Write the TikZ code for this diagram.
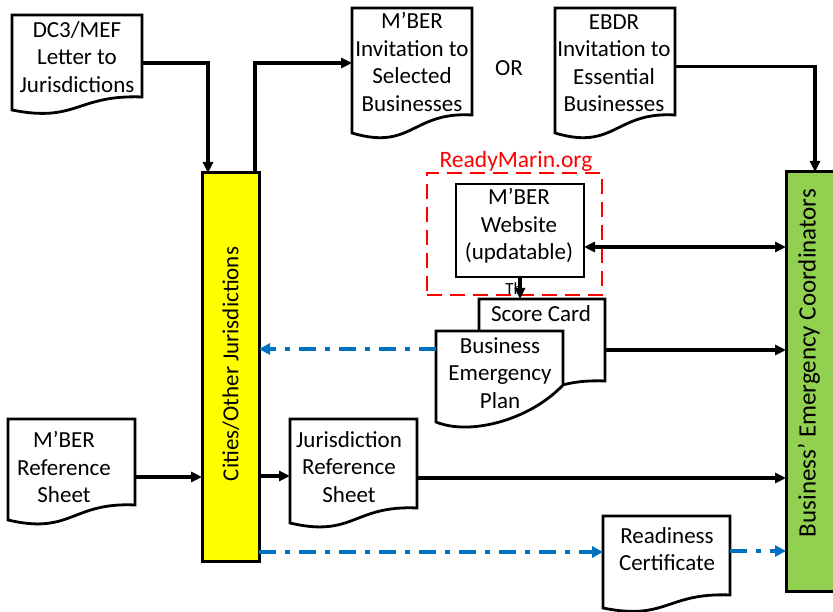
\documentclass[tikz,border=0pt]{standalone}
\usepackage{fontspec}
\setmainfont{Carlito}
\usetikzlibrary{arrows.meta,calc}
\definecolor{cyel}{HTML}{FFFF00}
\definecolor{cgreen}{HTML}{92D050}
\definecolor{cblue}{HTML}{0070C0}
\definecolor{cred}{HTML}{FF0000}
\tikzset{
  frame/.style={inner sep=0pt,outer sep=0pt},
  docline/.style={draw=black,fill=white,line width=2.8pt,line join=miter},
  txt/.style={inner sep=0pt,align=center,font=\fontsize{23}{27.5}\selectfont},
  bar/.style={frame,draw=black,line width=3pt},
  arr/.style={line width=3.2pt,-{Triangle[length=11pt,width=10pt]}},
  dblarr/.style={line width=3.2pt,{Triangle[length=11pt,width=10pt]}-{Triangle[length=11pt,width=10pt]}},
  bluearr/.style={line width=3.4pt,draw=cblue,dash pattern=on 17pt off 9pt on 5pt off 9pt,-{Triangle[length=11pt,width=11pt,fill=cblue]}},
}
\newcommand\docframe[2]{%
  \draw[docline] (#1.north west) -- ($(#1.south west)+(0,#2)$)
    .. controls ($(#1.south)+(0,{2*#2})$) and ($(#1.south)+(0,{-0.2*#2})$) .. (#1.south east)
    -- (#1.north east) -- cycle;}
\begin{document}
\begin{tikzpicture}[x=1pt,y=-1pt]
\useasboundingbox (0,0) rectangle (833,612);
% frames
\node[frame,minimum width=130,minimum height=82] (dc3) at (77,56) {};
\node[frame,minimum width=120,minimum height=107] (minv) at (412,61.5) {};
\node[frame,minimum width=120,minimum height=107] (ebdr) at (615,61.5) {};
\node[frame,minimum width=126,minimum height=82] (sc) at (542,340) {};
\node[frame,minimum width=127,minimum height=54] (bep) at (499.5,358) {};
\node[frame,minimum width=127,minimum height=86] (mrs) at (71.5,462) {};
\node[frame,minimum width=127,minimum height=89] (jrs) at (353.5,463.5) {};
\node[frame,minimum width=127,minimum height=79] (rc) at (666.5,555.5) {};
\docframe{dc3}{13}
\docframe{minv}{18}
\docframe{ebdr}{18}
\docframe{sc}{13}
\draw[docline] (bep.north west) -- ($(bep.south west)+(0,37)$)
  .. controls ($(bep.south west)+(34,51)$) and ($(bep.south west)+(94,35)$) .. (bep.south east)
  -- (bep.north east) -- cycle;
\docframe{mrs}{15}
\docframe{jrs}{15}
\docframe{rc}{13}
% bars
\node[bar,fill=cyel,minimum width=57,minimum height=388] (cities) at (230.5,367) {};
\node[bar,fill=cgreen,minimum width=56,minimum height=419] (green) at (814,381.5) {};
\node[txt,rotate=90] (citiest) at (231,364) {Cities/Other Jurisdictions};
\node[txt,rotate=90,font=\fontsize{25}{28}\selectfont] (greent) at (809,363) {Business’ Emergency Coordinators};
% website and red region
\node[frame,draw=cred,line width=2.8pt,dash pattern=on 15pt off 8pt,minimum width=175,minimum height=122] (rb) at (514.5,234) {};
\node[frame,draw=black,fill=white,line width=2.8pt,minimum width=128,minimum height=93] (web) at (520,230.5) {};
\node[txt] (webt) at (519,226) {M’BER\\Website\\(updatable)};
\node[inner sep=0pt,text=cred,font=\fontsize{23.5}{26}\selectfont] (rmt) at (516,161) {ReadyMarin.org};
% texts
\node[txt] (dc3t) at (77,57) {DC3/MEF\\Letter to\\Jurisdictions};
\node[txt] (minvt) at (412,62) {M’BER\\Invitation to\\Selected\\Businesses};
\node[txt] (ebdrt) at (614,63) {EBDR\\Invitation to\\Essential\\Businesses};
\node[txt] (ort) at (509,68) {OR};
\node[txt] (sct) at (541,314) {Score Card};
\node[txt] (bept) at (500,373) {Business\\Emergency\\Plan};
\node[txt] (mrst) at (64,467) {M’BER\\Reference\\Sheet};
\node[txt] (jrst) at (349,467) {Jurisdiction\\Reference\\Sheet};
\node[txt] (rct) at (667,549) {Readiness\\Certificate};
\node[inner sep=0pt,font=\fontsize{17}{18}\selectfont] (tht) at (514,289) {Th};
% connectors
\draw[arr] ($(dc3.east)+(0,7)$) -| ($(cities.north west)+(6,0)$);
\draw[arr] ($(cities.north east)+(-4,0)$) |- ($(minv.west)+(0,1.5)$);
\draw[arr] ($(ebdr.east)+(0,5)$) -| ($(green.north west)+(29,0)$);
\coordinate (w1) at ($(web.east)+(0,16.5)$);
\draw[dblarr] (w1) -- (w1 -| green.west);
\draw[arr] (web.south) -- (web.south |- sc.north);
\coordinate (s1) at ($(sc.east)+(0,10)$);
\draw[arr] (s1) -- (s1 -| green.west);
\coordinate (b1) at ($(bep.west)+(0,-9)$);
\draw[bluearr] (b1) -- (b1 -| cities.east);
\coordinate (m1) at ($(mrs.east)+(0,15)$);
\draw[arr] (m1) -- (m1 -| cities.west);
\coordinate (j0) at ($(jrs.west)+(0,12.5)$);
\draw[arr] (j0 -| cities.east) -- (j0);
\coordinate (j1) at ($(jrs.east)+(0,14.5)$);
\draw[arr] (j1) -- (j1 -| green.west);
\coordinate (r0) at ($(rc.west)+(0,-3.5)$);
\draw[bluearr] (r0 -| cities.east) -- (r0);
\coordinate (r1) at ($(rc.east)+(0,-4.5)$);
\draw[bluearr] (r1) -- (r1 -| green.west);
\end{tikzpicture}
\end{document}
